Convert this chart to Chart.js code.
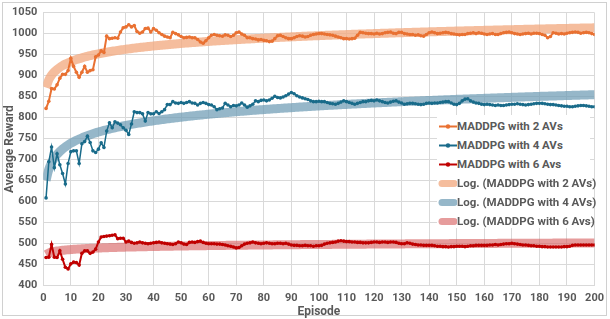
<!DOCTYPE html>
<html>
<head>
<meta charset="utf-8">
<script src="https://cdn.jsdelivr.net/npm/chart.js@4.4.1/dist/chart.umd.min.js"></script>
<style>
  html, body { margin: 0; padding: 0; background: #fff; }
  #wrap { position: relative; width: 610px; height: 319px; }
  #legend {
    position: absolute; left: 437px; top: 115px; width: 153px; height: 113px;
    background: #fff; font: bold 11.5px Roboto, sans-serif; color: #595959;
  }
  .row { position: absolute; left: 0; height: 19px; line-height: 19px; white-space: nowrap; }
  .row canvas { position: absolute; left: 0; top: 0; }
  .row span { position: absolute; left: 20px; top: 0; }
</style>
</head>
<body>
<div id="wrap">
  <canvas id="chart" width="610" height="319"></canvas>
  <div id="legend"></div>
</div>
<script>
const seriesNames = ["MADDPG with 2 AVs", "MADDPG with 4 AVs", "MADDPG with 6 Avs"];
const trendNames = ["Log. (MADDPG with 2 AVs)", "Log. (MADDPG with 4 AVs)", "Log. (MADDPG with 6 Avs)"];
const xTicks = [0, 200, 10];
const yTicks = [400, 1050, 50];

const reward2 = [
  822, 839, 869, 868, 878, 894, 903, 903, 912, 941,
  922, 908, 896, 908, 922, 908, 912, 914, 945, 949,
  959, 955, 994, 988, 989, 990, 989, 1004, 1014, 1016,
  1021, 1016, 1019, 1005, 1001, 1004, 1012, 1013, 1004, 1012,
  1008, 1002, 998, 994, 992, 990, 1003, 1000, 997, 993,
  990, 991, 992, 990, 990, 986, 980, 977, 983, 990,
  996, 998, 996, 995, 994, 997, 996, 993, 996, 1002,
  1004, 999, 996, 990, 990, 988, 987, 985, 986, 984,
  983, 981, 982, 988, 995, 996, 993, 990, 988, 988,
  990, 993, 995, 994, 992, 993, 996, 998, 999, 1000,
  1000, 999, 998, 997, 996, 994, 992, 990, 988, 988,
  987, 988, 989, 996, 1003, 1002, 1001, 1000, 1000, 999,
  1001, 999, 1000, 1002, 1003, 1004, 1001, 1000, 1003, 1003,
  1000, 999, 998, 998, 996, 997, 995, 994, 998, 1002,
  1004, 1002, 1000, 1001, 1002, 1003, 1002, 1000, 999, 998,
  997, 998, 998, 1000, 1001, 1002, 1000, 1002, 1001, 999,
  998, 999, 1000, 998, 998, 1000, 1002, 1003, 1004, 1002,
  1000, 999, 998, 999, 1000, 1001, 999, 1001, 1001, 1000,
  998, 996, 990, 993, 1002, 1001, 999, 1000, 999, 1001,
  1002, 1003, 1004, 1003, 1001, 1002, 1003, 1002, 1000, 998
];

const reward4 = [
  609, 695, 730, 681, 714, 688, 667, 642, 691, 719,
  721, 721, 691, 738, 743, 756, 741, 721, 717, 725,
  740, 729, 768, 788, 776, 790, 787, 783, 776, 770,
  760, 785, 814, 812, 812, 809, 792, 812, 809, 809,
  814, 810, 814, 819, 831, 831, 838, 835, 834, 836,
  834, 836, 838, 835, 834, 830, 834, 836, 834, 831,
  830, 826, 819, 821, 823, 834, 830, 826, 829, 828,
  830, 835, 830, 825, 828, 832, 840, 838, 841, 842,
  840, 842, 846, 851, 848, 847, 849, 852, 856, 860,
  857, 852, 849, 847, 845, 843, 840, 838, 838, 839,
  838, 838, 836, 834, 833, 832, 834, 837, 840, 838,
  836, 834, 832, 834, 836, 838, 838, 840, 841, 840,
  842, 840, 838, 836, 835, 837, 839, 840, 837, 835,
  832, 833, 834, 834, 833, 832, 831, 832, 834, 835,
  834, 835, 835, 836, 837, 838, 838, 835, 832, 831,
  834, 840, 844, 845, 840, 837, 835, 834, 832, 831,
  832, 831, 830, 829, 830, 829, 829, 830, 831, 832,
  832, 833, 832, 831, 830, 831, 832, 833, 834, 834,
  834, 833, 832, 831, 831, 830, 829, 828, 827, 827,
  826, 826, 827, 828, 829, 829, 828, 827, 826, 826
];

const reward6 = [
  467, 468, 498, 468, 467, 483, 463, 444, 440, 452,
  456, 455, 449, 477, 483, 483, 477, 480, 487, 504,
  516, 517, 518, 519, 520, 521, 512, 513, 513, 504,
  506, 503, 501, 502, 504, 502, 501, 500, 501, 502,
  503, 504, 502, 501, 500, 499, 498, 500, 504, 502,
  499, 498, 503, 504, 503, 505, 506, 503, 501, 500,
  500, 500, 499, 499, 498, 497, 495, 494, 492, 490,
  491, 495, 499, 501, 502, 504, 502, 501, 500, 501,
  502, 501, 500, 500, 501, 501, 500, 501, 499, 497,
  496, 496, 495, 495, 496, 495, 495, 494, 495, 495,
  496, 499, 501, 502, 503, 504, 506, 507, 506, 505,
  505, 504, 504, 503, 503, 502, 502, 502, 503, 504,
  504, 503, 504, 504, 503, 504, 504, 503, 501, 500,
  500, 502, 501, 499, 498, 497, 497, 496, 496, 496,
  496, 495, 494, 494, 493, 493, 492, 493, 493, 494,
  494, 494, 493, 494, 495, 495, 496, 496, 496, 496,
  496, 497, 497, 498, 497, 498, 499, 500, 500, 501,
  500, 499, 498, 497, 497, 496, 495, 495, 494, 494,
  493, 493, 492, 492, 492, 492, 492, 492, 493, 493,
  494, 496, 497, 497, 497, 497, 497, 497, 497, 497
];

const lineColors = ["#E97132", "#196B8A", "#C00000"];
const trendColors = ["rgba(242,170,130,0.78)", "rgba(110,155,180,0.72)", "rgba(215,95,95,0.62)"];

// episodes run 1..N, one per value
const episodes = reward2.map((_, i) => i + 1);
const toPoints = (vals) => vals.map((v, i) => ({ x: episodes[i], y: v }));

// Excel style logarithmic trendline: least squares of y on ln(x)
function logFit(vals) {
  const n = vals.length;
  let sx = 0, sy = 0, sxx = 0, sxy = 0;
  vals.forEach((v, i) => {
    const lx = Math.log(episodes[i]);
    sx += lx; sy += v; sxx += lx * lx; sxy += lx * v;
  });
  const a = (n * sxy - sx * sy) / (n * sxx - sx * sx);
  const b = (sy - a * sx) / n;
  return episodes.map((e) => ({ x: e, y: a * Math.log(e) + b }));
}

const allSeries = [reward2, reward4, reward6];

const datasets = [];
allSeries.forEach((vals, i) => {
  datasets.push({
    label: seriesNames[i],
    data: toPoints(vals),
    borderColor: lineColors[i],
    backgroundColor: lineColors[i],
    borderWidth: i === 1 ? 1.5 : 2,
    pointRadius: 1.8,
    pointBorderWidth: 0,
    tension: 0,
    order: 1
  });
});
allSeries.forEach((vals, i) => {
  datasets.push({
    label: trendNames[i],
    data: logFit(vals),
    borderColor: trendColors[i],
    borderWidth: 9,
    pointRadius: 0,
    tension: 0.3,
    order: 2
  });
});

const frame = {
  id: "frame",
  beforeDraw(chart) {
    const ctx = chart.ctx;
    ctx.save();
    ctx.strokeStyle = "#d0d0d0";
    ctx.lineWidth = 1;
    ctx.strokeRect(2.5, 2.5, 604, 313);
    ctx.restore();
  }
};

const tickFont = { family: "Roboto", weight: "bold", size: 11 };

new Chart(document.getElementById("chart"), {
  type: "line",
  data: { datasets },
  plugins: [frame],
  options: {
    responsive: false,
    animation: false,
    layout: { padding: { left: 0, right: 12.3, top: 10.7, bottom: 0 } },
    plugins: { legend: { display: false }, tooltip: { enabled: false } },
    scales: {
      x: {
        type: "linear",
        min: xTicks[0], max: xTicks[1],
        ticks: { stepSize: xTicks[2], color: "#595959", font: tickFont, padding: 6, maxRotation: 0, autoSkip: false },
        grid: { color: "#d9d9d9", drawTicks: false },
        border: { display: false },
        title: { display: true, text: "Episode", color: "#595959", font: { family: "Roboto", weight: "bold", size: 12 }, padding: { top: 0, bottom: 0 } },
        afterFit(scale) { scale.height = 33.3; }
      },
      y: {
        min: yTicks[0], max: yTicks[1],
        ticks: { stepSize: yTicks[2], color: "#595959", font: tickFont, padding: 6, callback: (v) => String(v) },
        grid: { color: "#d9d9d9", drawTicks: false },
        border: { display: false },
        title: { display: true, text: "Average Reward", color: "#595959", font: { family: "Roboto", weight: "bold", size: 12 }, padding: { top: 3, bottom: 0 } },
        afterFit(scale) { scale.width = 43.3; }
      }
    }
  }
});

// legend overlay
const legend = document.getElementById("legend");
const legendItems = seriesNames.map((t, i) => ({ text: t, color: lineColors[i], trend: false }))
  .concat(trendNames.map((t, i) => ({ text: t, color: trendColors[i], trend: true })));
legendItems.forEach((item, i) => {
  const row = document.createElement("div");
  row.className = "row";
  row.style.top = (2 + i * 19) + "px";
  const c = document.createElement("canvas");
  c.width = 20; c.height = 19;
  const g = c.getContext("2d");
  g.strokeStyle = item.color;
  g.lineCap = item.trend ? "round" : "butt";
  g.lineWidth = item.trend ? 7 : 2;
  g.beginPath(); g.moveTo(item.trend ? 5 : 2, 9.5); g.lineTo(item.trend ? 17 : 20, 9.5); g.stroke();
  if (!item.trend) {
    g.fillStyle = item.color;
    g.beginPath(); g.arc(11, 9.5, 2.2, 0, Math.PI * 2); g.fill();
  }
  const s = document.createElement("span");
  s.textContent = item.text;
  row.appendChild(c); row.appendChild(s);
  legend.appendChild(row);
});
</script>
</body>
</html>
